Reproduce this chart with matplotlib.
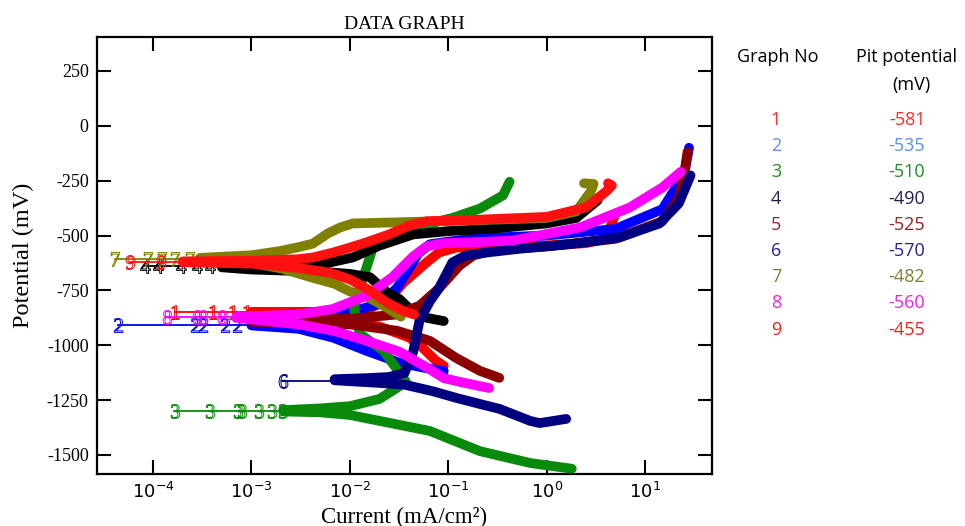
import matplotlib
matplotlib.use("Agg")
import matplotlib.pyplot as plt
from matplotlib.ticker import FixedLocator, NullLocator, LogFormatterMathtext

plt.rcParams['axes.unicode_minus'] = False
plt.rcParams['mathtext.fontset'] = 'custom'
plt.rcParams['mathtext.rm'] = 'Liberation Serif'
plt.rcParams['mathtext.it'] = 'Liberation Serif'
plt.rcParams['mathtext.bf'] = 'Liberation Serif'

# ---- data: current (mA/cm2), potential (mV) ----
# corrosion potential of each curve
ecorr = [-850, -907, -1298, -637, -890, -1163, -605, -872, -620]

# sparse markers on the flat part left of the dense curve
s1_tail = [1.66e-4, 4.1e-4, 6.5e-4, 9e-4]
s2_tail = [4.4e-5, 2.67e-4, 3.2e-4, 5.4e-4, 7.1e-4]
s3_tail = [1.66e-4, 3.8e-4, 7.3e-4, 8.1e-4, 1.2e-3, 1.6e-3, 2.1e-3]
s4_tail = [8.3e-5, 1.13e-4, 1.9e-4, 2.8e-4, 3.8e-4]
s5_tail = []
s6_tail = [2.1e-3]
s7_tail = [4.1e-5, 8.9e-5, 1.23e-4, 1.67e-4, 2.4e-4]
s8_tail = [1.39e-4, 2.8e-4, 3.2e-4, 5e-4]
s9_tail = [5.8e-5, 1.2e-4]

# cathodic branches
s1_cath = [(1e-3, -852), (5e-3, -868), (0.02, -915), (0.04, -965), (0.055, -1012),
           (0.075, -1071), (0.09, -1094)]
s2_cath = [(1e-3, -910), (3e-3, -925), (6.8e-3, -966), (0.0148, -1026), (0.032, -1080),
           (0.06, -1105), (0.09, -1118)]
s3_cath = [(2.1e-3, -1302), (5e-3, -1306), (0.01, -1318), (0.02, -1345), (0.065, -1391),
           (0.21, -1483), (0.68, -1537), (1.8, -1563)]
s4_cath = [(5e-4, -645), (1e-3, -655), (5e-3, -665), (0.01, -675), (0.016, -690),
           (0.024, -760), (0.032, -790), (0.044, -850), (0.06, -875), (0.09, -890)]
s5_cath = [(1e-3, -893), (3e-3, -898), (0.01, -905), (0.03, -934), (0.065, -980),
           (0.12, -1058), (0.21, -1117), (0.33, -1149)]
s6_cath = [(7e-3, -1160), (0.02, -1172), (0.036, -1180), (0.07, -1210), (0.12, -1240),
           (0.21, -1268), (0.33, -1290), (0.68, -1345), (0.85, -1355), (1.58, -1336)]
s7_cath = [(3e-4, -608), (1e-3, -625), (2e-3, -650), (4e-3, -690), (7e-3, -720),
           (0.01, -755), (0.015, -780), (0.024, -830), (0.033, -870)]
s8_cath = [(7e-4, -875), (3e-3, -905), (6.8e-3, -934), (0.0148, -980), (0.032, -1030),
           (0.065, -1110), (0.09, -1150), (0.14, -1170), (0.26, -1195)]
s9_cath = [(2e-4, -622), (1e-3, -628), (3e-3, -648), (6.3e-3, -670), (0.01, -700),
           (0.0148, -742), (0.024, -806), (0.035, -845), (0.045, -860)]

# anodic branches
s1_anod = [(1e-3, -848), (5e-3, -848), (0.015, -838), (0.025, -790), (0.035, -715),
           (0.06, -623), (0.08, -578), (0.12, -555), (0.3, -548), (1, -545),
           (2.5, -535), (4, -515), (5, -400)]
s2_anod = [(1e-3, -905), (3e-3, -898), (6e-3, -880), (0.012, -840), (0.02, -810),
           (0.03, -740), (0.04, -650), (0.05, -580), (0.065, -540), (0.1, -528),
           (0.2, -512), (1, -500), (5, -470), (15, -380), (25, -220), (28, -100)]
s3_anod = [(2.1e-3, -1296), (5e-3, -1288), (0.01, -1278), (0.02, -1245), (0.03, -1195),
           (0.037, -1165), (0.022, -1026), (0.0126, -948), (0.011, -830), (0.0135, -700),
           (0.017, -560), (0.025, -515), (0.05, -470), (0.08, -435), (0.11, -420),
           (0.21, -377), (0.36, -317), (0.42, -255)]
s4_anod = [(5e-4, -635), (1e-3, -645), (3e-3, -640), (6e-3, -625), (0.0107, -600),
           (0.02, -546), (0.044, -495), (0.1, -480), (0.3, -468), (1, -445),
           (2, -420), (3.3, -340)]
s5_anod = [(1e-3, -887), (0.01, -880), (0.03, -860), (0.051, -820), (0.08, -742),
           (0.13, -637), (0.18, -591), (0.3, -565), (1, -550), (5, -515),
           (15, -435), (22, -330), (25, -220), (27, -120)]
s6_anod = [(7e-3, -1155), (0.015, -1150), (0.025, -1145), (0.036, -1126), (0.044, -1030),
           (0.051, -888), (0.065, -800), (0.08, -742), (0.11, -623), (0.15, -591),
           (0.24, -578), (0.54, -560), (1.7, -540), (5.5, -509), (14, -445),
           (22, -354), (29, -226)]
s7_anod = [(3e-4, -602), (1e-3, -590), (2e-3, -570), (3e-3, -553), (4.2e-3, -537),
           (6e-3, -490), (8e-3, -463), (0.0107, -445), (0.044, -438), (0.2, -430),
           (1, -420), (2, -390), (2.8, -300), (3, -265), (2.4, -262)]
s8_anod = [(7e-4, -870), (3e-3, -860), (6.7e-3, -835), (0.0148, -775), (0.027, -690),
           (0.044, -595), (0.06, -550), (0.088, -535), (0.2, -530), (0.45, -523),
           (2.2, -463), (7, -372), (15, -281), (23, -210)]
s9_anod = [(2e-4, -618), (1e-3, -615), (3e-3, -608), (4.2e-3, -600), (6.7e-3, -578),
           (0.01, -555), (0.015, -530), (0.025, -495), (0.04, -455), (0.06, -435),
           (0.2, -428), (1, -415), (2.5, -372), (4, -300), (4.6, -272), (4.2, -262)]

graph_no = ["1", "2", "3", "4", "5", "6", "7", "8", "9"]
pit_potential = ["-581", "-535", "-510", "-490", "-525", "-570", "-482", "-560", "-455"]
curve_colors = ["#ff0000", "#0000ff", "#0a8a0a", "#000000", "#8b0000",
                "#000080", "#808000", "#ff00ff", "#ff1010"]
table_colors = ["#ff2a2a", "#5b8ef0", "#228b22", "#1f1f55", "#8b2525",
                "#22228f", "#7f7f35", "#e02ae0", "#e82222"]

tails = [s1_tail, s2_tail, s3_tail, s4_tail, s5_tail, s6_tail, s7_tail, s8_tail, s9_tail]
caths = [s1_cath, s2_cath, s3_cath, s4_cath, s5_cath, s6_cath, s7_cath, s8_cath, s9_cath]
anods = [s1_anod, s2_anod, s3_anod, s4_anod, s5_anod, s6_anod, s7_anod, s8_anod, s9_anod]

fig = plt.figure(figsize=(9.65, 5.26), dpi=100)
ax = fig.add_axes([0.1005, 0.0989, 0.6373, 0.8308])

for k in range(9):
    col = curve_colors[k]
    mk = "$%s$" % graph_no[k]
    start = min(caths[k][0][0], anods[k][0][0])
    if tails[k]:
        ax.plot([tails[k][0], start], [ecorr[k], ecorr[k]], color=col, lw=1.3, zorder=2)
        ax.plot(tails[k], [ecorr[k]] * len(tails[k]), ls="none", marker=mk,
                color=col, mfc="none", mew=0.7, ms=10, zorder=2)
    for br in (caths[k], anods[k]):
        xs = [p[0] for p in br]
        ys = [p[1] for p in br]
        ax.plot(xs, ys, color=col, lw=7, solid_capstyle="round",
                solid_joinstyle="round", zorder=3)

ax.set_xscale("log")
ax.set_xlim(2.69e-5, 47.9)
ax.set_ylim(-1587, 405)
ax.xaxis.set_major_locator(FixedLocator([1e-4, 1e-3, 1e-2, 1e-1, 1, 10]))
ax.xaxis.set_minor_locator(NullLocator())
ax.xaxis.set_major_formatter(LogFormatterMathtext())
ax.set_yticks([250, 0, -250, -500, -750, -1000, -1250, -1500])
ax.tick_params(axis="both", which="major", direction="in", length=10, width=1.5,
               top=True, right=True, labelsize=13, pad=6)
for lab in ax.get_yticklabels():
    lab.set_fontfamily("Liberation Serif")
for sp in ax.spines.values():
    sp.set_linewidth(1.6)

ax.set_title("DATA GRAPH", fontsize=14, family="Liberation Serif", pad=6)
ax.set_xlabel("Current (mA/cm\u00b2)", fontsize=16.5, family="Liberation Serif", labelpad=3)
ax.set_ylabel("Potential (mV)", fontsize=17.5, family="Liberation Serif", labelpad=9)

# table at the right
fig.text(778 / 965, 1 - 57 / 526, "Graph No", ha="center", va="center",
         fontsize=13, family="Open Sans")
fig.text(907 / 965, 1 - 57 / 526, "Pit potential", ha="center", va="center",
         fontsize=13, family="Open Sans")
fig.text(911 / 965, 1 - 85 / 526, "(mV)", ha="center", va="center",
         fontsize=13, family="Open Sans")
for k in range(9):
    yy = 1 - (120 + 26.2 * k) / 526
    fig.text(776 / 965, yy, graph_no[k], ha="center", va="center", fontsize=13,
             family="Open Sans", color=table_colors[k])
    fig.text(907 / 965, yy, pit_potential[k], ha="center", va="center", fontsize=13,
             family="Open Sans", color=table_colors[k])

fig.savefig("out.png", dpi=100)
